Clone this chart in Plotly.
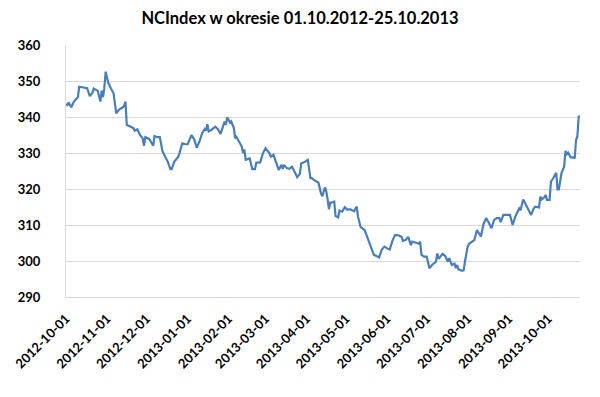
import plotly.graph_objects as go

title_text = "NCIndex w okresie 01.10.2012-25.10.2013"

dates = [
    "2012-10-01", "2012-10-02", "2012-10-03", "2012-10-05", "2012-10-07", "2012-10-10", "2012-10-11",
    "2012-10-14", "2012-10-17", "2012-10-19", "2012-10-21", "2012-10-22", "2012-10-25", "2012-10-27",
    "2012-10-28", "2012-10-29", "2012-10-30", "2012-10-31", "2012-11-02", "2012-11-04", "2012-11-06",
    "2012-11-08", "2012-11-10", "2012-11-13", "2012-11-14", "2012-11-15", "2012-11-16", "2012-11-19",
    "2012-11-21", "2012-11-22", "2012-11-24", "2012-11-26", "2012-11-28", "2012-11-29", "2012-11-30",
    "2012-12-03", "2012-12-04", "2012-12-06", "2012-12-07", "2012-12-09", "2012-12-11", "2012-12-13",
    "2012-12-15", "2012-12-17", "2012-12-19", "2012-12-20", "2012-12-22", "2012-12-25", "2012-12-26",
    "2012-12-28", "2012-12-30", "2013-01-01", "2013-01-04", "2013-01-06", "2013-01-08", "2013-01-10",
    "2013-01-12", "2013-01-14", "2013-01-15", "2013-01-16", "2013-01-17", "2013-01-19", "2013-01-22",
    "2013-01-24", "2013-01-26", "2013-01-28", "2013-01-29", "2013-01-30", "2013-01-31", "2013-02-02",
    "2013-02-03", "2013-02-05", "2013-02-06", "2013-02-07", "2013-02-09", "2013-02-11", "2013-02-12",
    "2013-02-13", "2013-02-14", "2013-02-16", "2013-02-17", "2013-02-19", "2013-02-21", "2013-02-22",
    "2013-02-25", "2013-02-27", "2013-03-01", "2013-03-04", "2013-03-05", "2013-03-07", "2013-03-09",
    "2013-03-11", "2013-03-13", "2013-03-14", "2013-03-15", "2013-03-17", "2013-03-19", "2013-03-21",
    "2013-03-23", "2013-03-25", "2013-03-27", "2013-03-28", "2013-03-31", "2013-04-02", "2013-04-04",
    "2013-04-05", "2013-04-07", "2013-04-09", "2013-04-10", "2013-04-12", "2013-04-13", "2013-04-15",
    "2013-04-16", "2013-04-17", "2013-04-18", "2013-04-19", "2013-04-20", "2013-04-22", "2013-04-23",
    "2013-04-25", "2013-04-26", "2013-04-28", "2013-04-30", "2013-05-02", "2013-05-04", "2013-05-06",
    "2013-05-07", "2013-05-09", "2013-05-10", "2013-05-12", "2013-05-15", "2013-05-17", "2013-05-19",
    "2013-05-22", "2013-05-24", "2013-05-26", "2013-05-28", "2013-05-30", "2013-06-01", "2013-06-03",
    "2013-06-05", "2013-06-07", "2013-06-09", "2013-06-12", "2013-06-13", "2013-06-15", "2013-06-17",
    "2013-06-19", "2013-06-20", "2013-06-23", "2013-06-25", "2013-06-26", "2013-06-27", "2013-06-29",
    "2013-07-01", "2013-07-03", "2013-07-05", "2013-07-08", "2013-07-09", "2013-07-10", "2013-07-12",
    "2013-07-13", "2013-07-15", "2013-07-17", "2013-07-18", "2013-07-20", "2013-07-22", "2013-07-23",
    "2013-07-24", "2013-07-25", "2013-07-28", "2013-07-29", "2013-07-30", "2013-08-01", "2013-08-02",
    "2013-08-04", "2013-08-06", "2013-08-08", "2013-08-10", "2013-08-11", "2013-08-13", "2013-08-15",
    "2013-08-17", "2013-08-19", "2013-08-21", "2013-08-23", "2013-08-25", "2013-08-26", "2013-08-28",
    "2013-08-31", "2013-09-02", "2013-09-04", "2013-09-06", "2013-09-09", "2013-09-10", "2013-09-12",
    "2013-09-14", "2013-09-16", "2013-09-18", "2013-09-20", "2013-09-21", "2013-09-24", "2013-09-25",
    "2013-09-26", "2013-09-28", "2013-09-29", "2013-09-30", "2013-10-02", "2013-10-03", "2013-10-05",
    "2013-10-07", "2013-10-08", "2013-10-09", "2013-10-11", "2013-10-13", "2013-10-14", "2013-10-15",
    "2013-10-16", "2013-10-18", "2013-10-20", "2013-10-21", "2013-10-22", "2013-10-23", "2013-10-24",
    "2013-10-25",
]

values = [
    343.6, 343.3, 344.0, 342.7, 344.3, 345.5, 348.4,
    348.1, 348.0, 345.8, 346.7, 347.9, 347.3, 344.3,
    347.3, 345.5, 348.0, 352.6, 349.5, 347.9, 346.6,
    341.0, 342.0, 342.7, 343.1, 344.3, 337.8, 337.3,
    336.9, 336.2, 336.6, 335.0, 334.1, 332.0, 334.4,
    333.9, 333.3, 332.0, 334.7, 334.4, 334.4, 330.5,
    329.0, 327.6, 325.5, 325.5, 327.6, 329.0, 330.1,
    332.7, 332.5, 332.4, 335.0, 333.8, 331.5, 333.2,
    335.5, 336.7, 336.2, 338.0, 336.0, 336.4, 337.3,
    336.6, 335.3, 338.0, 338.7, 337.8, 339.9, 338.5,
    338.8, 337.0, 334.1, 334.5, 333.2, 331.8, 330.0,
    331.0, 328.1, 328.3, 328.5, 325.5, 325.5, 327.3,
    327.4, 329.9, 331.3, 329.9, 329.0, 329.5, 327.6,
    325.3, 326.7, 325.6, 326.7, 325.8, 325.6, 326.2,
    324.8, 323.3, 324.2, 327.1, 327.6, 328.1, 323.0,
    323.0, 322.4, 322.1, 321.8, 318.8, 318.0, 320.5,
    319.3, 317.1, 314.4, 316.2, 316.2, 316.5, 312.5,
    312.1, 314.0, 313.7, 314.9, 314.2, 314.4, 314.0,
    313.8, 315.1, 312.3, 309.4, 308.6, 306.6, 304.7,
    301.7, 301.4, 301.0, 303.2, 304.0, 303.5, 303.2,
    305.6, 307.2, 307.2, 306.7, 305.6, 305.8, 306.7,
    304.4, 305.4, 305.1, 304.8, 305.4, 301.7, 301.2,
    301.2, 298.0, 298.9, 299.8, 302.1, 300.6, 301.4,
    302.0, 301.4, 299.8, 300.8, 298.9, 299.3, 298.0,
    298.9, 297.7, 297.3, 297.5, 300.0, 304.0, 304.8,
    305.2, 305.8, 308.6, 307.5, 306.8, 310.3, 311.9,
    310.6, 309.1, 311.4, 311.9, 311.9, 310.8, 312.8,
    312.7, 312.8, 310.0, 312.3, 314.6, 314.1, 317.1,
    315.6, 314.2, 312.8, 314.6, 315.1, 314.9, 317.9,
    317.1, 317.7, 318.3, 317.0, 317.0, 322.0, 323.2,
    324.5, 319.9, 319.9, 324.4, 326.2, 330.6, 329.7,
    330.1, 328.8, 328.8, 328.5, 333.6, 334.6, 340.1,
    340.3,
]

tick_dates = [
    "2012-10-01", "2012-11-01", "2012-12-01", "2013-01-01", "2013-02-01", "2013-03-01",
    "2013-04-01", "2013-05-01", "2013-06-01", "2013-07-01", "2013-08-01", "2013-09-01",
    "2013-10-01",
]
y_ticks = [290, 300, 310, 320, 330, 340, 350, 360]

fig = go.Figure()
fig.add_trace(go.Scatter(
    x=dates, y=values, mode="lines",
    line=dict(color="#4a7ebb", width=2.2),
    showlegend=False, hoverinfo="x+y",
))

font_family = "Lato, 'Open Sans', 'Liberation Sans', sans-serif"

fig.update_layout(
    width=600, height=397,
    margin=dict(l=63, r=20, t=45, b=100),
    paper_bgcolor="white", plot_bgcolor="white",
    title=dict(
        text="<b>" + title_text + "</b>",
        x=0.5, xanchor="center", y=0.955, yanchor="middle",
        font=dict(family=font_family, size=16.5, color="#000000"),
    ),
    font=dict(family=font_family, color="#000000"),
)

fig.update_xaxes(
    type="date",
    range=["2012-10-01", "2013-10-25"],
    tickvals=tick_dates,
    ticktext=["<b>" + t + "</b>" for t in tick_dates],
    tickangle=-45,
    tickfont=dict(family=font_family, size=13, color="#000000"),
    ticklabelstandoff=8,
    showgrid=False,
    showline=True, linecolor="#d9d9d9", linewidth=1,
    ticks="", zeroline=False,
)

fig.update_yaxes(
    range=[290, 360],
    tickvals=y_ticks,
    ticktext=["<b>%d</b>" % v for v in y_ticks],
    tickfont=dict(family=font_family, size=13, color="#000000"),
    showgrid=True, gridcolor="#d9d9d9", gridwidth=1,
    showline=True, linecolor="#d9d9d9", linewidth=1,
    ticks="", ticklabelstandoff=22, zeroline=False,
)

fig.write_html("out.html")
